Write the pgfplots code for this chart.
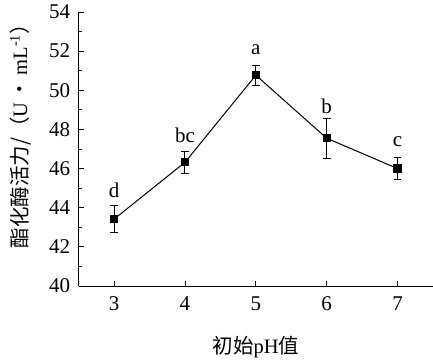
\documentclass[border=0pt]{standalone}
\usepackage{pgfplots}
\pgfplotsset{compat=1.18}
\usepackage{fontspec}
\setmainfont{Liberation Serif}
\newfontfamily\cjk{Noto Sans CJK SC}
\begin{document}
\begin{tikzpicture}
\useasboundingbox (-78.7pt,-75pt) rectangle (354.3pt,286pt);
\begin{axis}[
  at={(0pt,0pt)}, anchor=south west,
  scale only axis, width=354.3pt, height=274pt,
  xmin=2.5, xmax=7.5, ymin=40, ymax=54,
  axis x line=bottom, axis y line=left,
  axis line style={-, line width=1pt},
  tick align=inside,
  xtick={3,4,5,6,7},
  ytick={40,42,...,54},
  minor y tick num=1,
  major tick length=5.5pt, minor tick length=3pt,
  tick style={line width=0.9pt, black},
  /pgf/number format/assume math mode=true,
  tick label style={font=\fontsize{21}{24}\selectfont},
  xticklabel style={yshift=-7pt},
  yticklabel style={xshift=-5pt},
  xlabel={{\cjk 初始}pH{\cjk 值}},
  ylabel={{\cjk 酯化酶活力/（}U\,{\cjk •}\,mL\textsuperscript{-1}{\cjk ）}},
  label style={font=\fontsize{20.5}{24}\selectfont},
  xlabel style={at={(axis description cs:0.5,-0.2226)}, anchor=center},
  ylabel style={at={(axis description cs:-0.165,0.565)}, anchor=center},
  clip=false,
]
\addplot[black, line width=1pt, mark=square*, mark size=3.6pt,
  error bars/.cd, y dir=both, y explicit,
  error bar style={line width=1pt},
  error mark options={rotate=90, mark size=3.8pt, line width=1pt}]
  coordinates {
  (3,43.42) +- (0,0.68)
  (4,46.32) +- (0,0.57)
  (5,50.77) +- (0,0.51)
  (6,47.55) +- (0,1.02)
  (7,46.00) +- (0,0.58)
  };
\addplot[draw=none, mark=none,
  nodes near coords, point meta=explicit symbolic,
  nodes near coords align={anchor=base},
  every node near coord/.append style={font=\fontsize{21}{24}\selectfont, inner sep=0pt}]
  table[meta=lab] {
  x y lab
  3 44.51 d
  4 47.33 bc
  5 51.84 a
  6 48.79 b
  7 47.15 c
  };
\end{axis}
\end{tikzpicture}
\end{document}
